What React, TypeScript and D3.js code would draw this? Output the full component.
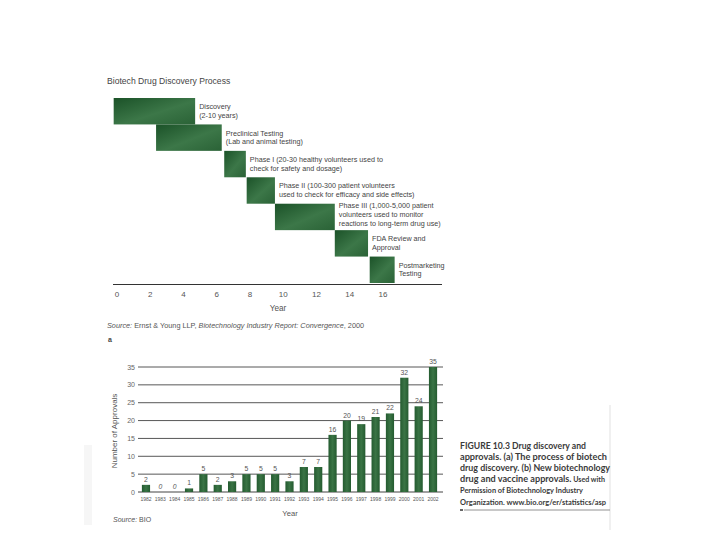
import React from 'react';
import * as d3 from 'd3';

// --- top chart: drug discovery process (years) ---
const phaseNames = ['Discovery', 'Preclinical', 'Phase I', 'Phase II', 'Phase III', 'FDA', 'Postmarketing'];
const phaseStart = [-0.2, 2.35, 6.45, 7.8, 9.5, 13.1, 15.2];
const phaseEnd = [4.7, 6.3, 7.75, 9.5, 13.1, 15.1, 16.7];
const phaseLabels = [
  ['Discovery', '(2-10 years)'],
  ['Preclinical Testing', '(Lab and animal testing)'],
  ['Phase I (20-30 healthy volunteers used to', 'check for safety and dosage)'],
  ['Phase II (100-300 patient volunteers', 'used to check for efficacy and side effects)'],
  ['Phase III (1,000-5,000 patient', 'volunteers used to monitor', 'reactions to long-term drug use)'],
  ['FDA Review and', 'Approval'],
  ['Postmarketing', 'Testing'],
];
const yearTicks = [0, 2, 4, 6, 8, 10, 12, 14, 16];

// --- bottom chart: approvals per year ---
const approvalYears = ['1982', '1983', '1984', '1985', '1986', '1987', '1988', '1989', '1990', '1991', '1992',
  '1993', '1994', '1995', '1996', '1997', '1998', '1999', '2000', '2001', '2002'];
const approvals = [2, 0, 0, 1, 5, 2, 3, 5, 5, 5, 3, 7, 7, 16, 20, 19, 21, 22, 32, 24, 35];
const approvalTicks = [0, 5, 10, 15, 20, 25, 30, 35];

const captionLines = [
  'FIGURE 10.3  Drug discovery and',
  'approvals. (a) The process of biotech',
  'drug discovery. (b) New biotechnology',
];
const captionWidths = [126, 147, 150];

const sans = '"Liberation Sans", Arial, sans-serif';
const capFont = 'Lato, "Open Sans", sans-serif';

export default function App() {
  const W = 720, H = 540;

  // gantt scales
  const x = d3.scaleLinear().domain([0, 16]).range([117, 383]);
  const row = d3.scaleBand<number>().domain(d3.range(phaseNames.length)).range([98, 283]).paddingInner(0);

  // bar chart scales
  const bx = d3.scaleBand<string>().domain(approvalYears).range([138.8, 440.2]).paddingInner(0.43).paddingOuter(0.215);
  const by = d3.scaleLinear().domain([0, 35]).range([492, 367]);

  const capY = (i: number) => 448.5 + i * 11.3;

  return (
    <svg width={W} height={H} style={{ position: 'absolute', left: 0, top: 0, background: '#fff' }}>
      <defs>
        <linearGradient id="gantt" x1="0" y1="0" x2="1" y2="1">
          <stop offset="0" stopColor="#1b5228" />
          <stop offset="0.55" stopColor="#3c7748" />
          <stop offset="1" stopColor="#2a6236" />
        </linearGradient>
        <linearGradient id="bar" x1="0" y1="0" x2="1" y2="0">
          <stop offset="0" stopColor="#245b30" />
          <stop offset="0.5" stopColor="#3a7445" />
          <stop offset="1" stopColor="#245b30" />
        </linearGradient>
      </defs>

      {/* faint scanned page edges */}
      <rect x={84} y={445} width={8} height={80} fill="#f6f6f6" />
      <rect x={609} y={405} width={2} height={125} fill="#f0f0f0" />

      {/* ---- top chart ---- */}
      <text x={107} y={84} fontFamily={sans} fontSize={8.6} fill="#444">Biotech Drug Discovery Process</text>

      {phaseNames.map((n, i) => {
        const top = row(i)!;
        const lines = phaseLabels[i];
        const off = lines.length === 3 ? 2 : 8.5;
        return (
          <g key={n}>
            <rect x={x(phaseStart[i])} y={top} width={x(phaseEnd[i]) - x(phaseStart[i])} height={row.bandwidth()} fill="url(#gantt)" />
            {lines.map((l, j) => (
              <text key={j} x={x(phaseEnd[i]) + 4} y={top + off + j * 8.8 + 2.6} fontFamily={sans} fontSize={7.2} fill="#444">{l}</text>
            ))}
          </g>
        );
      })}

      <line x1={113} x2={442} y1={284.5} y2={284.5} stroke="#333" strokeWidth={1.2} />
      {yearTicks.map(t => (
        <text key={t} x={x(t)} y={297} textAnchor="middle" fontFamily={sans} fontSize={8} fill="#555">{t}</text>
      ))}
      <text x={278} y={311} textAnchor="middle" fontFamily={sans} fontSize={8.2} fill="#555">Year</text>

      <text x={107} y={327.5} fontFamily={sans} fontSize={7.3} fill="#555">
        <tspan fontStyle="italic">Source:</tspan>
        <tspan>{'  Ernst & Young LLP, '}</tspan>
        <tspan fontStyle="italic">Biotechnology Industry Report: Convergence</tspan>
        <tspan>, 2000</tspan>
      </text>
      <text x={108} y={341.5} fontFamily={sans} fontSize={7} fontWeight="bold" fill="#444">a</text>

      {/* ---- bottom chart ---- */}
      {approvalTicks.map(t => (
        <g key={t}>
          <line x1={138} x2={443} y1={by(t)} y2={by(t)} stroke="#444" strokeWidth={t === 0 ? 1.1 : 0.9} />
          <text x={135} y={by(t) + 2.5} textAnchor="end" fontFamily={sans} fontSize={7} fill="#666">{t}</text>
        </g>
      ))}

      {approvalYears.map((yr, i) => (
        <g key={yr}>
          <rect x={bx(yr)} y={by(approvals[i])} width={bx.bandwidth()} height={by(0) - by(approvals[i])} fill="url(#bar)" />
          <text x={bx(yr)! + bx.bandwidth() / 2} y={by(approvals[i]) - 3} textAnchor="middle"
            fontFamily={sans} fontSize={6.8} fill="#555" fontStyle={approvals[i] === 0 ? 'italic' : 'normal'}>
            {approvals[i]}
          </text>
          <text x={bx(yr)! + bx.bandwidth() / 2} y={500.8} textAnchor="middle" fontFamily={sans} fontSize={5} fill="#555">{yr}</text>
        </g>
      ))}

      <text transform="translate(117,431) rotate(-90)" textAnchor="middle" fontFamily={sans} fontSize={8} fill="#555">Number of Approvals</text>
      <text x={290} y={516} textAnchor="middle" fontFamily={sans} fontSize={7.6} fill="#555">Year</text>
      <text x={113} y={521.5} fontFamily={sans} fontSize={7} fill="#555">
        <tspan fontStyle="italic">Source:</tspan>
        <tspan>  BIO</tspan>
      </text>

      {/* ---- caption ---- */}
      {captionLines.map((c, i) => (
        <text key={i} x={460} y={capY(i)} fontFamily={capFont} fontSize={9} fontWeight="bold" fill="#3a3a3a"
          textLength={captionWidths[i]} lengthAdjust="spacingAndGlyphs">{c}</text>
      ))}
      <text x={460} y={capY(3)} fontFamily={capFont} fontWeight="bold" fill="#3a3a3a" textLength={145} lengthAdjust="spacingAndGlyphs">
        <tspan fontSize={9}>drug and vaccine approvals.</tspan>
        <tspan fontSize={7}> Used with</tspan>
      </text>
      <text x={460} y={capY(4) - 0.5} fontFamily={capFont} fontSize={7} fontWeight="bold" fill="#3a3a3a"
        textLength={123} lengthAdjust="spacingAndGlyphs">Permission of Biotechnology Industry</text>
      <text x={460} y={capY(5) - 0.5} fontFamily={capFont} fontSize={7} fontWeight="bold" fill="#3a3a3a"
        textLength={146} lengthAdjust="spacingAndGlyphs">Organization. www.bio.org/er/statistics/asp</text>
      <rect x={460} y={509} width={3} height={2} fill="#666" />
      <line x1={464} x2={610} y1={510} y2={510} stroke="#777" strokeWidth={0.8} />
    </svg>
  );
}
